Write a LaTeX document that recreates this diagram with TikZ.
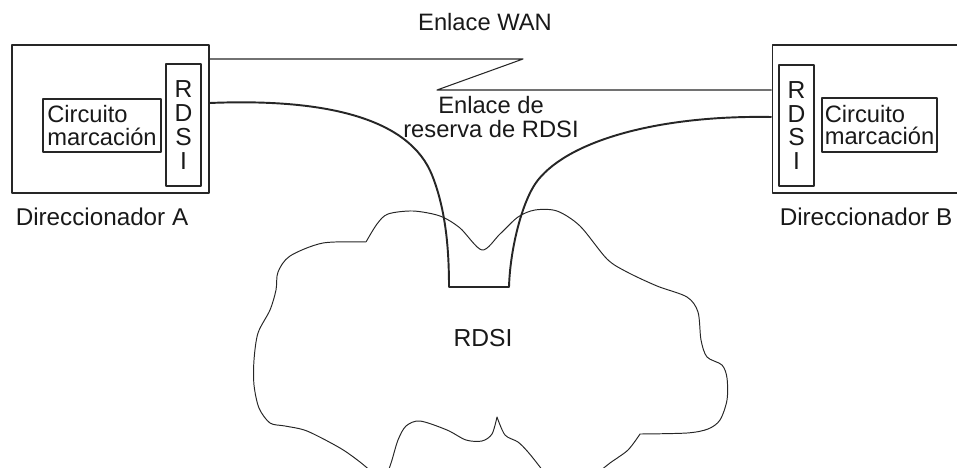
\documentclass[tikz,border=0pt]{standalone}
\usepackage{fontspec}
\setmainfont{Liberation Sans}

\tikzset{
  box/.style={draw=black!85, line width=0.6pt, inner sep=0pt},
  txt/.style={font=\fontsize{13.5}{13}\selectfont, text=black!90, inner sep=0pt},
  link/.style={draw=black!85, line width=1.1pt},
  wanline/.style={draw=black!85, line width=0.6pt},
  cloudline/.style={draw=black!85, line width=0.55pt}
}

\begin{document}
\begin{tikzpicture}[x=0.02cm, y=-0.02cm, line join=round]
  \clip (0,0) rectangle (957,467);

  % routers
  \node[box, minimum width=3.94cm, minimum height=2.96cm] (routerA) at (110.5,119) {};
  \node[box, minimum width=4.56cm, minimum height=2.96cm] (routerB) at (886,119) {};
  \node[box, txt, align=center, minimum width=0.7cm, minimum height=2.44cm,
        font=\fontsize{14}{13.6}\selectfont] (rdsiA) at (183.5,125) {R\\D\\S\\I};
  \node[box, txt, align=center, minimum width=0.7cm, minimum height=2.42cm,
        font=\fontsize{14}{13.6}\selectfont] (rdsiB) at (796.5,125.5) {R\\D\\S\\I};
  \node[box, txt, align=left, minimum width=2.36cm, minimum height=1.06cm] (dialA) at (102,125.5) {Circuito\\marcación};
  \node[box, txt, align=left, minimum width=2.3cm, minimum height=1.08cm] (dialB) at (879.5,125) {Circuito\\marcación};

  % labels
  \node[txt, font=\fontsize{13.8}{13}\selectfont] (nameA) at (102,216.5) {Direccionador A};
  \node[txt, font=\fontsize{13.8}{13}\selectfont] (nameB) at (866,216.5) {Direccionador B};
  \node[txt] (wan) at (485,22) {Enlace WAN};
  \node[txt, align=center, font=\fontsize{13.5}{14.2}\selectfont] (backup) at (491,117) {Enlace de\\reserva de RDSI};
  \node[txt, font=\fontsize{14}{13}\selectfont] (isdn) at (483,338) {RDSI};

  % ISDN cloud
  \draw[cloudline] plot[smooth, tension=0.5] coordinates {(366,242) (377,224) (388,214) (413,211) (440,216) (460,228) (482,250) (500,234) (518,217) (535,210) (557,211) (580,226) (607,259) (627,272) (657,286) (687,297) (698,312) (701,340) (707,357) (722,365) (727,378) (727,400) (720,420) (708,429) (687,433) (640,434)}
    -- plot[smooth, tension=0.5] coordinates {(640,434) (628,450) (610,463) (595,475)}
    -- (570,485) -- plot[smooth, tension=0.5] coordinates {(548,478) (540,467) (528,452) (518,442) (505,435) (497,417)}
    -- plot[smooth, tension=0.5] coordinates {(497,417) (492,434) (482,441) (466,440) (447,430) (420,421) (406,426) (398,440) (392,460) (388,472)}
    -- (378,485) -- plot[smooth, tension=0.5] coordinates {(374,474) (360,462) (340,448) (307,431) (285,426) (270,423) (259,408) (254,385) (254,360) (258,333) (270,310) (276,290) (278,272) (290,256) (323,243) (366,242)};

  % WAN link
  \draw[wanline] (routerA.east |- 0,59) -- (523,59) -- (437,90) -- (routerB.west |- 0,90);

  % backup ISDN link
  \draw[link] (routerA.east |- 0,103) .. controls (330,98) and (410,120) .. (432,175)
    .. controls (446,210) and (449,250) .. (449,287) -- (509,287)
    .. controls (510,250) and (522,200) .. (538,180)
    .. controls (570,140) and (660,115) .. (routerB.west |- 0,117);
\end{tikzpicture}
\end{document}
